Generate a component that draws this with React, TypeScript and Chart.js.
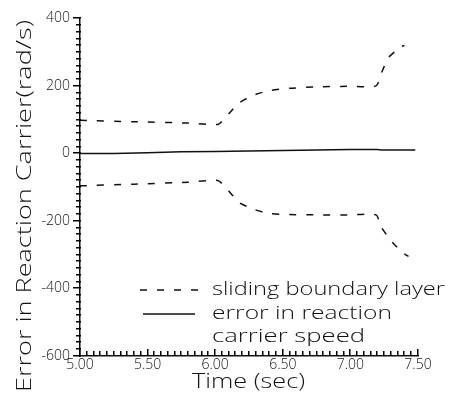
import React, { useEffect, useRef } from "react";
import { Chart, registerables } from "chart.js";

Chart.register(...registerables);

// ---- data ----
const upperTime = [5.0, 5.4, 5.8, 6.02, 6.08, 6.17, 6.28, 6.4, 6.55, 6.75, 7.0, 7.19, 7.23, 7.28, 7.33, 7.37, 7.4];
const upperValues = [98, 94, 90, 86, 108, 148, 172, 186, 193, 197, 199, 200, 239, 283, 302, 315, 320];
const lowerTime = [5.0, 5.4, 5.8, 6.02, 6.08, 6.18, 6.29, 6.4, 6.55, 6.75, 7.0, 7.19, 7.23, 7.31, 7.39, 7.43];
const lowerValues = [-96, -91, -85, -80, -102, -146, -166, -178, -181, -182, -182, -182, -219, -263, -295, -305];
const errorTime = [5.0, 5.25, 5.5, 5.75, 6.0, 6.25, 6.5, 6.75, 7.0, 7.2, 7.23, 7.48];
const errorValues = [0, 0, 2, 5, 6, 7, 9, 10, 12, 12, 10, 10];

const xTicks = [5.0, 5.5, 6.0, 6.5, 7.0, 7.5];
const yTicks = [400, 200, 0, -200, -400, -600];
const xMinorStep = 0.05;
const yMinorStep = 20;

const legendBoundary = "sliding boundary layer";
const legendErrorLines = ["error in reaction", "carrier speed"];
const xTitle = "Time (sec)";
const yTitle = "Error in Reaction Carrier(rad/s)";

const FONT = '"Open Sans", "DejaVu Sans", sans-serif';

function fitText(ctx: CanvasRenderingContext2D, text: string, x: number, y: number, width: number) {
  const w = ctx.measureText(text).width;
  ctx.save();
  ctx.translate(x, y);
  ctx.scale(width / w, 1);
  ctx.textAlign = "left";
  ctx.fillText(text, 0, 0);
  ctx.restore();
}

const decorPlugin = {
  id: "decor",
  afterDraw(chart: any) {
    const ctx: CanvasRenderingContext2D = chart.ctx;
    const xs = chart.scales.x;
    const ys = chart.scales.y;
    const area = chart.chartArea;
    ctx.save();
    ctx.setLineDash([]);
    ctx.globalAlpha = 1;
    ctx.fillStyle = "#000000";
    // y ticks (outside, left)
    const ny = Math.round((400 - -600) / yMinorStep);
    for (let i = 0; i <= ny; i++) {
      const v = -600 + i * yMinorStep;
      const py = Math.round(ys.getPixelForValue(v));
      const major = i % 10 === 0;
      const len = major ? 7 : 4;
      ctx.fillRect(Math.round(area.left) - len, py - 1, len + 1, 1.5);
    }
    // x ticks (inside, up)
    const nx = Math.round((7.5 - 5) / xMinorStep);
    for (let i = 0; i <= nx; i++) {
      const v = 5 + i * xMinorStep;
      const px = Math.round(xs.getPixelForValue(v));
      const major = i % 10 === 0;
      const len = major ? 7 : 5;
      ctx.fillRect(px - 1, Math.round(area.bottom) - len, 1.5, len);
    }
    ctx.fillStyle = "#111111";
    ctx.textBaseline = "middle";
    // axis titles
    ctx.font = `300 20px ${FONT}`;
    fitText(ctx, xTitle, 192, 382, 113);
    ctx.save();
    ctx.translate(25, 392);
    ctx.rotate(-Math.PI / 2);
    fitText(ctx, yTitle, 0, 0, 372);
    ctx.restore();
    // legend
    ctx.font = `300 18px ${FONT}`;
    const ds0 = chart.data.datasets[0];
    ctx.strokeStyle = "#111111";
    ctx.lineWidth = 1.5;
    ctx.setLineDash(ds0.borderDash);
    ctx.beginPath();
    ctx.moveTo(140, 290);
    ctx.lineTo(204, 290);
    ctx.stroke();
    ctx.setLineDash([]);
    ctx.beginPath();
    ctx.moveTo(143, 314);
    ctx.lineTo(195, 314);
    ctx.stroke();
    fitText(ctx, legendBoundary, 212, 290, 233);
    fitText(ctx, legendErrorLines[0], 212, 314, 180);
    fitText(ctx, legendErrorLines[1], 212, 337, 153);
    ctx.restore();
  },
};

export default function App() {
  const ref = useRef<HTMLCanvasElement | null>(null);
  useEffect(() => {
    if (!ref.current) return;
    const chart = new Chart(ref.current, {
      type: "line",
      data: {
        datasets: [
          {
            label: legendBoundary,
            data: upperTime.map((t, i) => ({ x: t, y: upperValues[i] })),
            borderColor: "#111",
            borderWidth: 1.5,
            borderDash: [7, 10],
            pointRadius: 0,
            tension: 0.2,
          },
          {
            label: legendBoundary + " (lower)",
            data: lowerTime.map((t, i) => ({ x: t, y: lowerValues[i] })),
            borderColor: "#111",
            borderWidth: 1.5,
            borderDash: [7, 10],
            pointRadius: 0,
            tension: 0.2,
          },
          {
            label: legendErrorLines.join(" "),
            data: errorTime.map((t, i) => ({ x: t, y: errorValues[i] })),
            borderColor: "#111",
            borderWidth: 1.5,
            pointRadius: 0,
            tension: 0,
          },
        ],
      },
      options: {
        animation: false,
        responsive: false,
        layout: { padding: { left: 0, top: 15, right: 39, bottom: 0 } },
        plugins: { legend: { display: false }, tooltip: { enabled: false } },
        scales: {
          x: {
            type: "linear",
            min: 5,
            max: 7.5,
            afterFit: (s: any) => {
              s.height = 41;
            },
            afterBuildTicks: (s: any) => {
              s.ticks = xTicks.map((v) => ({ value: v }));
            },
            grid: { display: false, drawTicks: false, tickLength: 0 },
            border: { display: true, color: "#111", width: 1.5 },
            ticks: {
              padding: 1,
              color: "#111",
              font: { family: FONT, size: 14, weight: "300" },
              maxRotation: 0,
              callback: (v: any) => Number(v).toFixed(2),
            },
          },
          y: {
            type: "linear",
            min: -600,
            max: 400,
            afterFit: (s: any) => {
              s.width = 80;
            },
            afterBuildTicks: (s: any) => {
              s.ticks = yTicks.map((v) => ({ value: v }));
            },
            grid: { display: false, drawTicks: false, tickLength: 0 },
            border: { display: true, color: "#111", width: 1.5 },
            ticks: {
              padding: 10,
              color: "#111",
              font: { family: FONT, size: 14, weight: "300" },
              callback: (v: any) => String(v),
            },
          },
        },
      },
      plugins: [decorPlugin],
    } as any);
    return () => chart.destroy();
  }, []);
  return (
    <div style={{ position: "absolute", left: 0, top: 0, width: 457, height: 397, background: "#fff" }}>
      <canvas ref={ref} width={457} height={397} style={{ display: "block" }} />
    </div>
  );
}
